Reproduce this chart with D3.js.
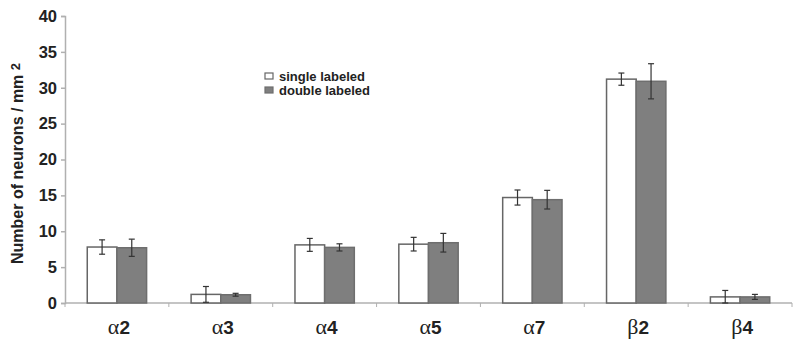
<!DOCTYPE html>
<html>
<head>
<meta charset="utf-8">
<script src="https://cdn.jsdelivr.net/npm/d3@7"></script>
<style>
body { margin: 0; background: #fff; }
svg { display: block; }
</style>
</head>
<body>
<svg id="chart"></svg>
<script>
// receptor subunits and counts (neurons / mm2)
var subunits = ["α2", "α3", "α4", "α5", "α7", "β2", "β4"];
var series = ["single labeled", "double labeled"];
var singleValues = [7.8, 1.2, 8.1, 8.2, 14.7, 31.2, 0.85];
var singleErrors = [1.0, 1.1, 0.9, 0.95, 1.05, 0.85, 0.9];
var doubleValues = [7.7, 1.15, 7.75, 8.4, 14.4, 30.9, 0.85];
var doubleErrors = [1.2, 0.2, 0.5, 1.3, 1.3, 2.45, 0.35];
var yTicks = [0, 5, 10, 15, 20, 25, 30, 35, 40];

var margin = {top: 16, right: 8, bottom: 41, left: 65},
width = 800 - margin.left - margin.right,
height = 344 - margin.top - margin.bottom;

var svg = d3.select("#chart")
.attr("width", 800)
.attr("height", 344)
.append("g")
.attr("transform", "translate(" + margin.left + "," + margin.top + ")");

var data = subunits.map(function(s, i){
	return {subunit: s, bars: [
		{key: series[0], value: singleValues[i], err: singleErrors[i]},
		{key: series[1], value: doubleValues[i], err: doubleErrors[i]}
	]};
});

var x0 = d3.scaleBand()
.domain(subunits)
.range([0, width]);

var x1 = d3.scaleBand()
.domain(series)
.range([0, x0.bandwidth()])
.paddingOuter(0.75);

var y = d3.scaleLinear()
.domain([0, 40])
.range([height, 0]);

var fills = d3.scaleOrdinal().domain(series).range(["#ffffff", "#7f7f7f"]);
var strokes = d3.scaleOrdinal().domain(series).range(["#666666", "#6e6e6e"]);

// y axis
var yAxis = svg.append("g")
.call(d3.axisLeft(y).tickValues(yTicks).tickSize(4).tickPadding(4));
yAxis.selectAll("path, line").attr("stroke", "#b0b0b0").attr("stroke-width", 1.5);
yAxis.selectAll("text")
.style("font-family", "Liberation Sans, Arial, sans-serif")
.style("font-size", "16.5px")
.style("font-weight", "bold")
.attr("fill", "#222");

// x axis, ticks between groups
var xAxis = svg.append("g")
.attr("transform", "translate(0," + height + ")");
xAxis.append("line")
.attr("x1", 0).attr("x2", width)
.attr("stroke", "#b0b0b0").attr("stroke-width", 1.5);
xAxis.selectAll(".sep")
.data(subunits.concat(["end"]))
.enter()
.append("line")
.attr("x1", function(d, i){ return i * x0.step(); })
.attr("x2", function(d, i){ return i * x0.step(); })
.attr("y1", 0).attr("y2", 4)
.attr("stroke", "#b0b0b0");

var labels = xAxis.selectAll(".lab")
.data(subunits)
.enter()
.append("text")
.attr("x", function(d){ return x0(d) + x0.bandwidth() / 2 + 2; })
.attr("y", 31)
.attr("text-anchor", "middle")
.attr("fill", "#222")
.style("font-size", "22px");
labels.append("tspan")
.style("font-family", "Liberation Serif, Times New Roman, serif")
.text(function(d){ return d.charAt(0); });
labels.append("tspan")
.style("font-family", "Liberation Sans, Arial, sans-serif")
.style("font-weight", "bold")
.style("font-size", "19px")
.text(function(d){ return d.slice(1); });

// bars
var groups = svg.selectAll(".group")
.data(data)
.enter()
.append("g")
.attr("transform", function(d){ return "translate(" + x0(d.subunit) + ",0)"; });

groups.selectAll("rect")
.data(function(d){ return d.bars; })
.enter()
.append("rect")
.attr("x", function(d){ return x1(d.key); })
.attr("y", function(d){ return y(d.value); })
.attr("width", x1.bandwidth())
.attr("height", function(d){ return y(0) - y(d.value); })
.attr("fill", function(d){ return fills(d.key); })
.attr("stroke", function(d){ return strokes(d.key); })
.attr("stroke-width", 1.5);

// error bars
var errs = groups.selectAll(".err")
.data(function(d){ return d.bars; })
.enter()
.append("g")
.attr("stroke", "#333")
.attr("stroke-width", 1.2);
errs.append("line")
.attr("x1", function(d){ return x1(d.key) + x1.bandwidth() / 2; })
.attr("x2", function(d){ return x1(d.key) + x1.bandwidth() / 2; })
.attr("y1", function(d){ return y(d.value + d.err); })
.attr("y2", function(d){ return y(Math.max(0, d.value - d.err)); });
errs.append("line")
.attr("x1", function(d){ return x1(d.key) + x1.bandwidth() / 2 - 3; })
.attr("x2", function(d){ return x1(d.key) + x1.bandwidth() / 2 + 3; })
.attr("y1", function(d){ return y(d.value + d.err); })
.attr("y2", function(d){ return y(d.value + d.err); });
errs.append("line")
.attr("x1", function(d){ return x1(d.key) + x1.bandwidth() / 2 - 3; })
.attr("x2", function(d){ return x1(d.key) + x1.bandwidth() / 2 + 3; })
.attr("y1", function(d){ return y(Math.max(0, d.value - d.err)); })
.attr("y2", function(d){ return y(Math.max(0, d.value - d.err)); });

// y label
d3.select("#chart").append("text")
.attr("transform", "translate(23," + (margin.top + height / 2 + 4) + ")rotate(-90)")
.attr("text-anchor", "middle")
.style("font-family", "Liberation Sans, Arial, sans-serif")
.style("font-size", "16px")
.style("font-weight", "bold")
.attr("fill", "#222")
.text("Number of neurons / mm ")
.append("tspan")
.attr("dy", -3)
.style("font-size", "13px")
.text("2");

// legend
var legend = svg.selectAll(".legend")
.data(series)
.enter()
.append("g")
.attr("transform", function(d, i){ return "translate(200," + (57 + i * 14) + ")"; });
legend.append("rect")
.attr("x", 0).attr("y", 0)
.attr("width", 8).attr("height", 6)
.attr("fill", function(d){ return fills(d); })
.attr("stroke", function(d){ return strokes(d); })
.attr("stroke-width", 1.2);
legend.append("text")
.attr("x", 14).attr("y", 7.5)
.style("font-family", "Liberation Sans, Arial, sans-serif")
.style("font-size", "13px")
.style("font-weight", "bold")
.attr("fill", "#222")
.text(function(d){ return d; });
</script>
</body>
</html>
